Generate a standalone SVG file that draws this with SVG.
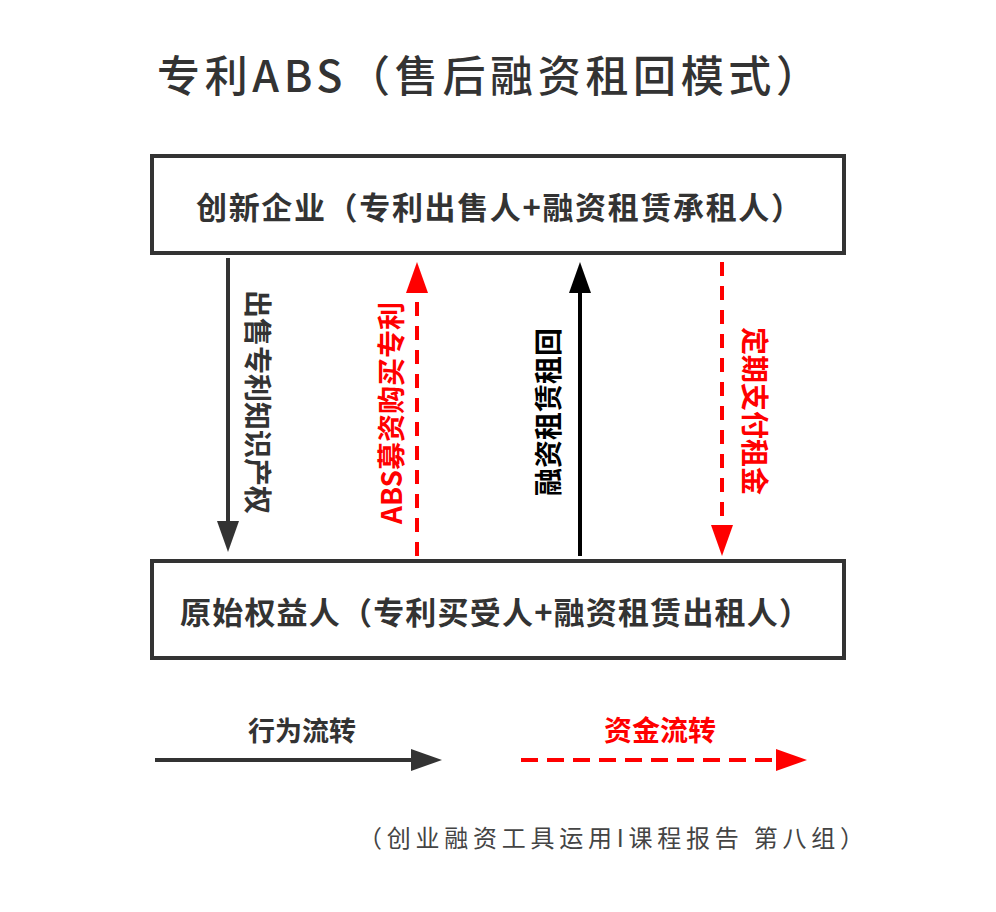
<svg xmlns="http://www.w3.org/2000/svg" width="996" height="912" viewBox="0 0 996 912">
<style>
.box{fill:#fff;stroke:#333;stroke-width:4}
.t{font-family:"Noto Sans CJK SC","Liberation Sans",sans-serif}
.b{font-weight:bold}
.dark{fill:#333}
.red{fill:#ff0000}
.blk{fill:#000}
.ln{fill:none;stroke-width:4}
</style>
<defs>
<marker id="hDark" markerUnits="userSpaceOnUse" markerWidth="32" markerHeight="22" refX="1" refY="11" orient="auto"><path d="M0,0 L31,11 L0,22 z" fill="#333"/></marker>
<marker id="hBlack" markerUnits="userSpaceOnUse" markerWidth="32" markerHeight="22" refX="1" refY="11" orient="auto"><path d="M0,0 L31,11 L0,22 z" fill="#000"/></marker>
<marker id="hRed" markerUnits="userSpaceOnUse" markerWidth="32" markerHeight="22" refX="1" refY="11" orient="auto"><path d="M0,0 L31,11 L0,22 z" fill="#ff0000"/></marker>
</defs>
<rect width="996" height="912" fill="#fff"/>
<text id="title" class="t dark" x="157" y="92" font-size="43" font-weight="500" textLength="662" lengthAdjust="spacing">专利ABS（售后融资租回模式）</text>
<g id="node-top">
<rect class="box" x="152" y="156" width="692" height="97"/>
<text class="t b dark" x="196" y="205" dominant-baseline="central" font-size="31" textLength="606" lengthAdjust="spacing">创新企业（专利出售人+融资租赁承租人）</text>
</g>
<g id="node-bottom">
<rect class="box" x="152" y="561" width="692" height="97"/>
<text class="t b dark" x="180" y="610" dominant-baseline="central" font-size="31" textLength="630" lengthAdjust="spacing">原始权益人（专利买受人+融资租赁出租人）</text>
</g>
<g id="connectors">
<path class="ln" d="M228,258 L228,522" stroke="#333" marker-end="url(#hDark)"/>
<path class="ln" d="M417,556 L417,292" stroke="#ff0000" stroke-dasharray="14 10" marker-end="url(#hRed)"/>
<path class="ln" d="M580,556 L580,292" stroke="#000" marker-end="url(#hBlack)"/>
<path class="ln" d="M722,262 L722,526" stroke="#ff0000" stroke-dasharray="14 10" marker-end="url(#hRed)"/>
<text class="t b dark" transform="translate(259,402) rotate(90)" text-anchor="middle" dominant-baseline="central" font-size="28">出售专利知识产权</text>
<text class="t b red" transform="translate(390,413) rotate(-90)" text-anchor="middle" dominant-baseline="central" font-size="28">ABS募资购买专利</text>
<text class="t b blk" transform="translate(547,412) rotate(-90)" text-anchor="middle" dominant-baseline="central" font-size="28">融资租赁租回</text>
<text class="t b red" transform="translate(756,411) rotate(90)" text-anchor="middle" dominant-baseline="central" font-size="28">定期支付租金</text>
</g>
<g id="legend">
<text class="t b dark" x="302" y="729" text-anchor="middle" dominant-baseline="central" font-size="27">行为流转</text>
<path class="ln" d="M155,760 L412,760" stroke="#333" marker-end="url(#hDark)"/>
<text class="t b red" x="660" y="729" text-anchor="middle" dominant-baseline="central" font-size="28">资金流转</text>
<path class="ln" d="M521,760 L777,760" stroke="#ff0000" stroke-dasharray="17 9" marker-end="url(#hRed)"/>
</g>
<text id="footer" class="t" x="358" y="836" dominant-baseline="central" font-size="24" fill="#444" textLength="506" lengthAdjust="spacing">（创业融资工具运用I课程报告  第八组）</text>
</svg>
